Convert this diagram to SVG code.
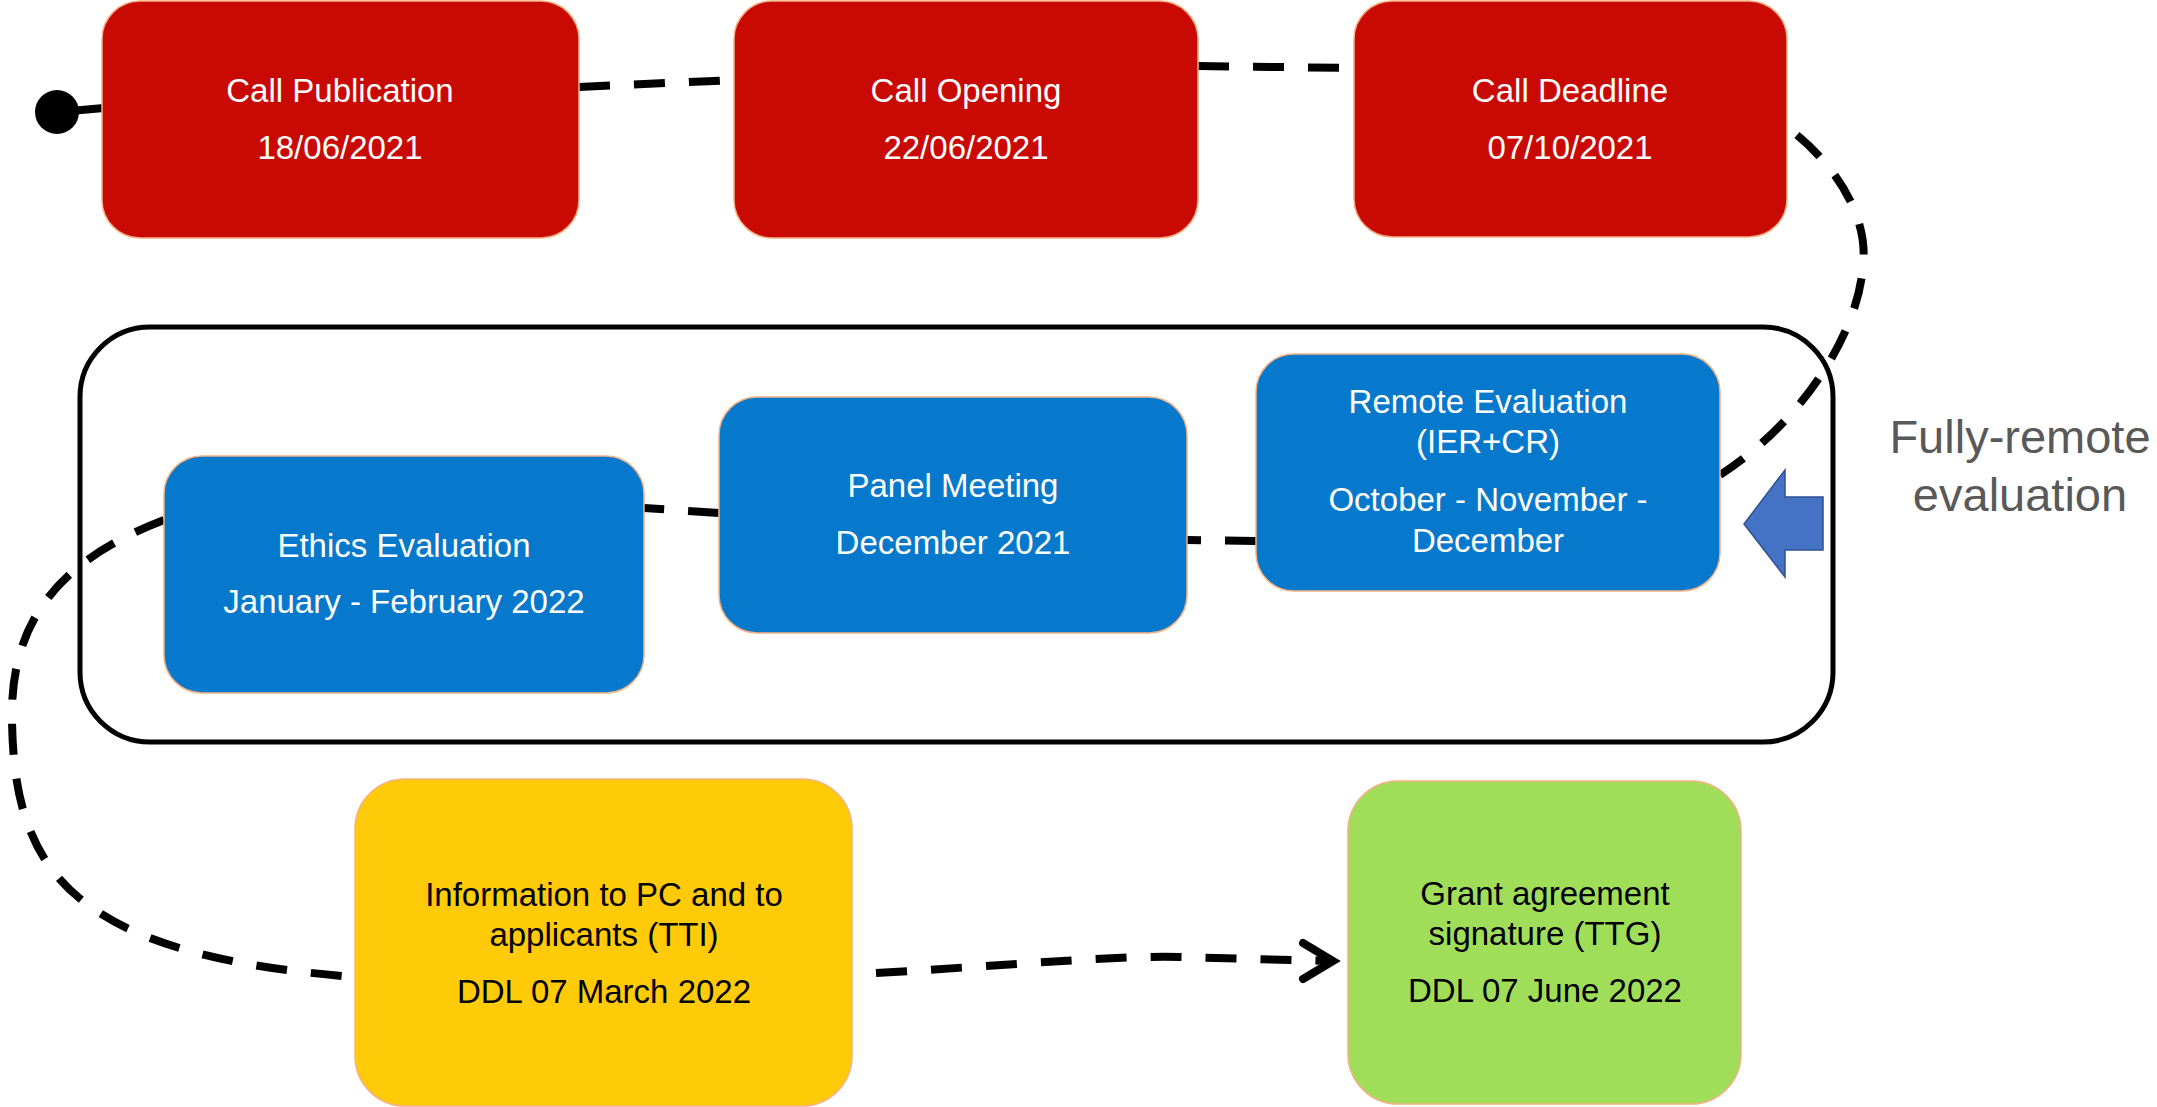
<svg xmlns="http://www.w3.org/2000/svg" width="2157" height="1107" viewBox="0 0 2157 1107">
<defs>
<style>
.box{stroke:#F4B183;stroke-width:1.5}
.red{fill:#C90A04}
.blue{fill:#0779CC}
.yellow{fill:#FFCA08}
.green{fill:#A0DE5A}
.t{font-family:"Liberation Sans",Arial,sans-serif;font-size:33px;text-anchor:middle}
.w{fill:#FFFFFF}
.k{fill:#000000}
.dash{fill:none;stroke:#000;stroke-width:8;stroke-dasharray:31 24}
.solid{fill:none;stroke:#000;stroke-width:8}
</style>
</defs>
<rect width="2157" height="1107" fill="#FFFFFF"/>
<g id="evaluation-group">
<rect x="80" y="327" width="1753" height="415" rx="70" ry="70" fill="none" stroke="#000" stroke-width="5"/>
</g>
<g id="connectors">
<circle cx="57" cy="112" r="22" fill="#000"/>
<line class="solid" x1="70" y1="111" x2="104" y2="108"/>
<line class="dash" x1="579" y1="87" x2="734" y2="80"/>
<line class="dash" x1="1198" y1="66" x2="1353" y2="68"/>
<path class="dash" d="M1797,135 C1845,175 1868,225 1863,265 C1859,330 1805,420 1720,475"/>
<line class="dash" x1="1256" y1="541" x2="1187" y2="540"/>
<line class="dash" x1="719" y1="513" x2="644" y2="508"/>
<path class="dash" d="M164,520 C60,560 10,620 12,720 C14,870 70,955 355,977"/>
<path class="dash" d="M876,973 C1000,966 1120,955 1180,957 L1330,961"/>
<polyline points="1303,943 1333,961 1303,979" fill="none" stroke="#000" stroke-width="8" stroke-linecap="round" stroke-linejoin="miter"/>
</g>
<g id="node-call-publication">
<rect class="box red" x="102" y="1" width="477" height="237" rx="38"/>
<text class="t w" x="340" y="102">Call Publication</text>
<text class="t w" x="340" y="159">18/06/2021</text>
</g>
<g id="node-call-opening">
<rect class="box red" x="734" y="1" width="464" height="237" rx="38"/>
<text class="t w" x="966" y="102">Call Opening</text>
<text class="t w" x="966" y="159">22/06/2021</text>
</g>
<g id="node-call-deadline">
<rect class="box red" x="1354" y="1" width="433" height="236" rx="38"/>
<text class="t w" x="1570" y="102">Call Deadline</text>
<text class="t w" x="1570" y="159">07/10/2021</text>
</g>
<g id="node-remote-evaluation">
<rect class="box blue" x="1256" y="354" width="464" height="237" rx="38"/>
<text class="t w" x="1488" y="413">Remote Evaluation</text>
<text class="t w" x="1488" y="453">(IER+CR)</text>
<text class="t w" x="1488" y="511">October - November -</text>
<text class="t w" x="1488" y="552">December</text>
</g>
<g id="node-panel-meeting">
<rect class="box blue" x="719" y="397" width="468" height="236" rx="38"/>
<text class="t w" x="953" y="497">Panel Meeting</text>
<text class="t w" x="953" y="554">December 2021</text>
</g>
<g id="node-ethics-evaluation">
<rect class="box blue" x="164" y="456" width="480" height="237" rx="38"/>
<text class="t w" x="404" y="557">Ethics Evaluation</text>
<text class="t w" x="404" y="613">January - February 2022</text>
</g>
<g id="node-information">
<rect class="box yellow" x="355" y="779" width="497" height="327" rx="50"/>
<text class="t k" x="604" y="906">Information to PC and to</text>
<text class="t k" x="604" y="946">applicants (TTI)</text>
<text class="t k" x="604" y="1003">DDL 07 March 2022</text>
</g>
<g id="node-grant">
<rect class="box green" x="1348" y="781" width="393" height="323" rx="50"/>
<text class="t k" x="1545" y="905">Grant agreement</text>
<text class="t k" x="1545" y="945">signature (TTG)</text>
<text class="t k" x="1545" y="1002">DDL 07 June 2022</text>
</g>
<g id="fully-remote-label">
<polygon points="1744,524 1785,470 1785,497 1823,497 1823,550 1785,550 1785,577" fill="#4472C4" stroke="#2F528F" stroke-width="1.5"/>
<text x="2020" y="453" font-family="'Liberation Sans',Arial,sans-serif" font-size="47" fill="#595959" text-anchor="middle">Fully-remote</text>
<text x="2020" y="511" font-family="'Liberation Sans',Arial,sans-serif" font-size="47" fill="#595959" text-anchor="middle">evaluation</text>
</g>
</svg>
